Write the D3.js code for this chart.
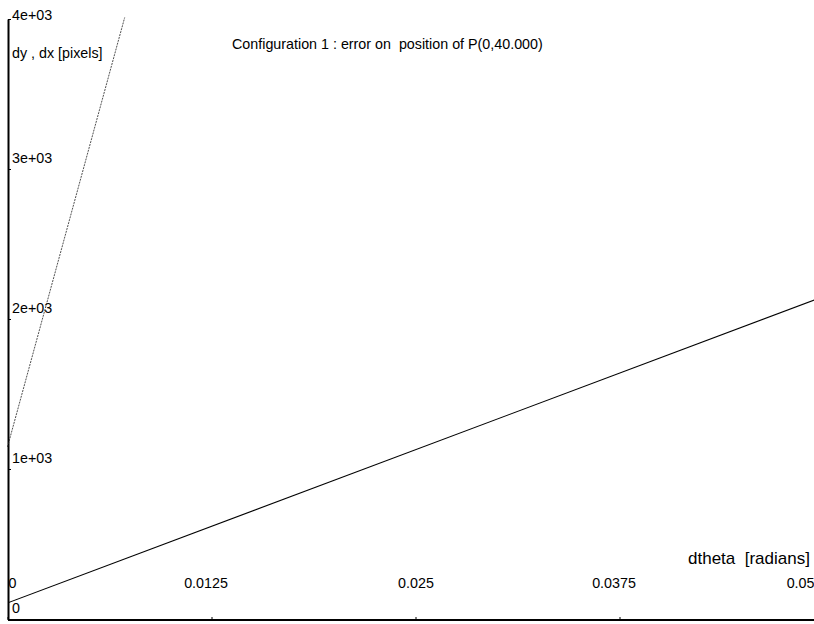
<!DOCTYPE html>
<html>
<head>
<meta charset="utf-8">
<script src="https://cdn.jsdelivr.net/npm/d3@7"></script>
<style>
  body { margin: 0; background: #fff; }
  text { font-family: "Liberation Sans", Arial, sans-serif; font-size: 14.3px; fill: #000; }
</style>
</head>
<body>
<svg id="chart" width="814" height="624"></svg>
<script>
// values
let dtheta = [0, 0.05];
let dySolid = [107, 2150];          // long, shallow line
let dthetaSteep = [0, 0.00718];
let dxSteep = [1147, 4010];         // steep line, leaves the top of the plot
let xTicks = [0, 0.0125, 0.025, 0.0375, 0.05];
let xTickLabels = ["0", "0.0125", "0.025", "0.0375", "0.05"];
let yTicks = [0, 1000, 2000, 3000, 4000];
let yTickLabels = ["0", "1e+03", "2e+03", "3e+03", "4e+03"];

let svg = d3.select("#chart");

let x = d3.scaleLinear().domain([0, 0.05]).range([7.5, 823.5]);
let y = d3.scaleLinear().domain([0, 4000]).range([619, 19]);

// y axis (ticks point inward)
let yAxis = svg.append("g")
  .attr("transform", "translate(8,0)")
  .call(d3.axisRight(y).tickValues(yTicks).tickSize(3).tickSizeOuter(0)
    .tickFormat((d, i) => yTickLabels[i]));
yAxis.select(".domain").attr("stroke-width", 2);
yAxis.selectAll("text")
  .attr("x", 4)
  .attr("dy", null)
  .attr("y", d => Math.max(y(d) - 7, 19) - y(d));

// x axis
let xAxis = svg.append("g")
  .attr("transform", "translate(0,620)")
  .call(d3.axisTop(x).tickValues(xTicks).tickSize(3).tickSizeOuter(0)
    .tickFormat((d, i) => xTickLabels[i]));
xAxis.select(".domain").attr("stroke-width", 2).attr("d", "M8,0H814");
xAxis.selectAll("text")
  .attr("y", -32)
  .attr("dy", null)
  .attr("text-anchor", (d, i) => i === 0 ? "start" : (i === xTicks.length - 1 ? "end" : "middle"))
  .attr("x", (d, i) => i === 0 ? 8 - x(d) : (i === xTicks.length - 1 ? 814 - x(d) : (i % 2 ? -6 : 0)));

let line = d3.line().x(d => x(d[0])).y(d => y(d[1]));

svg.append("defs").append("clipPath").attr("id", "clip")
  .append("rect").attr("x", 8).attr("y", 0).attr("width", 806).attr("height", 620);

svg.append("path")
  .datum(d3.zip(dtheta, dySolid))
  .attr("clip-path", "url(#clip)")
  .attr("fill", "none")
  .attr("stroke", "#000")
  .attr("stroke-width", 1.1)
  .attr("d", line);

svg.append("path")
  .datum(d3.zip(dthetaSteep, dxSteep))
  .attr("fill", "none")
  .attr("stroke", "#222")
  .attr("stroke-width", 0.8)
  .attr("stroke-dasharray", "2,1")
  .attr("d", line);

// labels
svg.append("text").attr("x", 232).attr("y", 49)
  .attr("xml:space", "preserve")
  .text("Configuration 1 : error on  position of P(0,40.000)");
svg.append("text").attr("x", 12).attr("y", 58).text("dy , dx [pixels]");
svg.append("text").attr("x", 688).attr("y", 564)
  .attr("xml:space", "preserve")
  .style("font-size", "17px")
  .text("dtheta  [radians]");
</script>
</body>
</html>
